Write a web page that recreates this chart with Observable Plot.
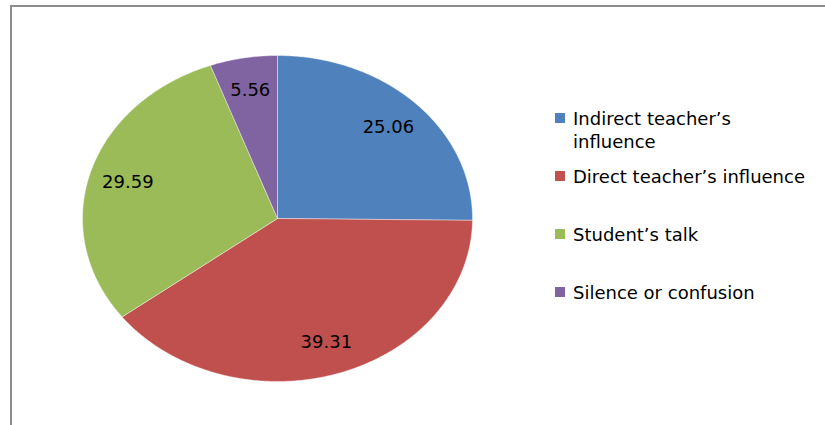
<!DOCTYPE html>
<html>
<head>
<meta charset="utf-8">
<script src="https://cdn.jsdelivr.net/npm/d3@7"></script>
<script src="https://cdn.jsdelivr.net/npm/@observablehq/plot@0.6"></script>
<style>
  html, body { margin: 0; padding: 0; background: #fff; overflow: hidden; }
  #wrap { position: relative; width: 825px; height: 425px; overflow: hidden; font-family: "DejaVu Sans", sans-serif; }
  #frame { position: absolute; left: 10px; top: 5px; width: 900px; height: 500px; border: 2px solid #8c8c8c; box-sizing: border-box; }
  #chart { position: absolute; left: 0; top: 0; }
  #legend { position: absolute; left: 555px; top: 107px; }
  .entry { position: absolute; left: 0; width: 260px; }
  .sw { position: absolute; left: 0; top: 6px; width: 10px; height: 10px; }
  .lab { position: absolute; left: 18px; width: 240px; font-size: 18px; line-height: 23px; color: #000; white-space: normal; }
</style>
</head>
<body>
<div id="wrap">
  <div id="frame"></div>
  <div id="chart"></div>
  <div id="legend"></div>
</div>
<script>
const categories = ["Indirect teacher’s influence", "Direct teacher’s influence", "Student’s talk", "Silence or confusion"];
const values = [25.06, 39.31, 29.59, 5.56];
const labels = ["25.06", "39.31", "29.59", "5.56"];
const colors = ["#4F81BD", "#C0504D", "#9BBB59", "#8064A2"];

const data = categories.map((c, i) => ({name: c, value: values[i], label: labels[i]}));
const arcs = d3.pie().sort(null).value(d => d.value)(data);

// Build slice outlines (unit circle) from the pie angles
const pts = [];
for (const a of arcs) {
  const n = Math.max(2, Math.ceil((a.endAngle - a.startAngle) / 0.01));
  pts.push({name: a.data.name, x: 0, y: 0});
  for (let k = 0; k <= n; k++) {
    const t = a.startAngle + (a.endAngle - a.startAngle) * k / n;
    pts.push({name: a.data.name, x: Math.sin(t), y: Math.cos(t)});
  }
  pts.push({name: a.data.name, x: 0, y: 0});
}
const labelR = 0.8;
const labelPts = arcs.map(a => {
  const m = (a.startAngle + a.endAngle) / 2;
  return {label: a.data.label, x: labelR * Math.sin(m), y: labelR * Math.cos(m)};
});

const plot = Plot.plot({
  width: 825,
  height: 425,
  margin: 0,
  style: {background: "transparent", overflow: "visible"},
  x: {domain: [-1, 1], range: [82, 472], axis: null},
  y: {domain: [-1, 1], range: [381, 55], axis: null},
  color: {domain: categories, range: colors},
  marks: [
    Plot.line(pts, {x: "x", y: "y", z: "name", fill: "name", stroke: "#ffffff", strokeWidth: 0.6, strokeOpacity: 0.7, curve: "linear"}),
    Plot.text(labelPts, {x: "x", y: "y", text: "label", fontSize: 18, fontFamily: "DejaVu Sans", fill: "#000"})
  ]
});
document.getElementById("chart").appendChild(plot);

const legend = document.getElementById("legend");
categories.forEach((c, i) => {
  const e = document.createElement("div");
  e.className = "entry";
  e.style.top = (58 * i) + "px";
  const sw = document.createElement("div");
  sw.className = "sw";
  sw.style.background = colors[i];
  const lab = document.createElement("div");
  lab.className = "lab";
  lab.textContent = c;
  e.appendChild(sw);
  e.appendChild(lab);
  legend.appendChild(e);
});
</script>
</body>
</html>
